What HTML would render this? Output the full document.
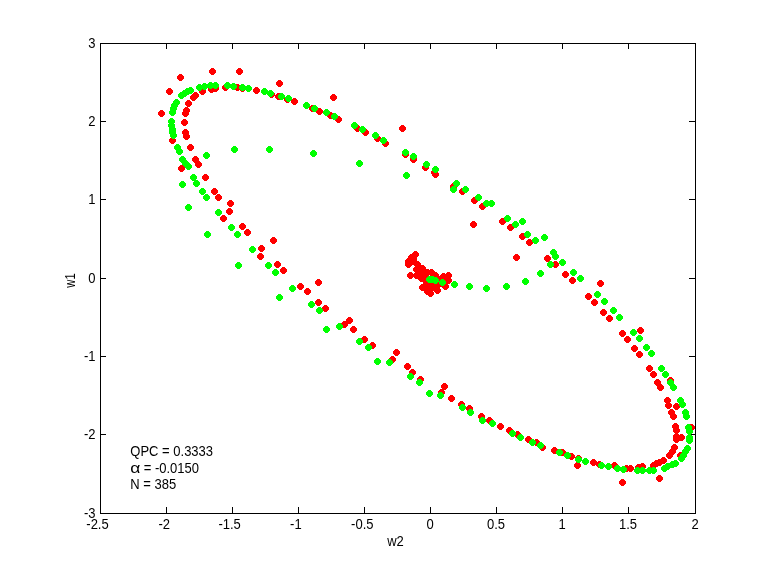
<!DOCTYPE html>
<html><head><meta charset="utf-8"><title>w1 vs w2</title>
<style>
html,body{margin:0;padding:0;background:#fff;}
svg{display:block;}
text{font-family:"Liberation Sans",sans-serif;font-size:14px;fill:#000;}
</style></head><body>
<svg width="768" height="576" viewBox="0 0 768 576">
<rect width="768" height="576" fill="#fff"/>
<g stroke="#000" stroke-width="1" fill="none" shape-rendering="crispEdges">
<rect x="100.5" y="43.5" width="595.0" height="470.0"/>
<path d="M166.5 513.5v-6.5M166.5 43.5v5.5"/><path d="M232.5 513.5v-6.5M232.5 43.5v5.5"/><path d="M298.5 513.5v-6.5M298.5 43.5v5.5"/><path d="M364.5 513.5v-6.5M364.5 43.5v5.5"/><path d="M430.5 513.5v-6.5M430.5 43.5v5.5"/><path d="M496.5 513.5v-6.5M496.5 43.5v5.5"/><path d="M562.5 513.5v-6.5M562.5 43.5v5.5"/><path d="M628.5 513.5v-6.5M628.5 43.5v5.5"/><path d="M100.5 121.5h5.5M695.5 121.5h-6.5"/><path d="M100.5 199.5h5.5M695.5 199.5h-6.5"/><path d="M100.5 278.5h5.5M695.5 278.5h-6.5"/><path d="M100.5 356.5h5.5M695.5 356.5h-6.5"/><path d="M100.5 434.5h5.5M695.5 434.5h-6.5"/>
</g>
<g fill="#ff0000" shape-rendering="crispEdges">
<circle cx="212.5" cy="71.5" r="3.4"/><circle cx="239.5" cy="71.5" r="3.4"/><circle cx="180.5" cy="77.5" r="3.4"/><circle cx="169.5" cy="91.5" r="3.4"/><circle cx="161.5" cy="113.5" r="3.4"/><circle cx="172.5" cy="140.5" r="3.4"/><circle cx="190.5" cy="147.5" r="3.4"/><circle cx="185.5" cy="132.5" r="3.4"/><circle cx="186.5" cy="136.5" r="3.4"/><circle cx="184.5" cy="122.5" r="3.4"/><circle cx="186.5" cy="110.5" r="3.4"/><circle cx="185.5" cy="113.5" r="3.4"/><circle cx="188.5" cy="103.5" r="3.4"/><circle cx="195.5" cy="95.5" r="3.4"/><circle cx="193.5" cy="97.5" r="3.4"/><circle cx="202.5" cy="91.5" r="3.4"/><circle cx="211.5" cy="89.5" r="3.4"/><circle cx="215.5" cy="88.5" r="3.4"/><circle cx="225.5" cy="87.5" r="3.4"/><circle cx="237.5" cy="87.5" r="3.4"/><circle cx="242.5" cy="88.5" r="3.4"/><circle cx="256.5" cy="90.5" r="3.4"/><circle cx="271.5" cy="94.5" r="3.4"/><circle cx="279.5" cy="83.5" r="3.4"/><circle cx="278.5" cy="96.5" r="3.4"/><circle cx="195.5" cy="159.5" r="3.4"/><circle cx="198.5" cy="164.5" r="3.4"/><circle cx="181.5" cy="168.5" r="3.4"/><circle cx="205.5" cy="177.5" r="3.4"/><circle cx="214.5" cy="191.5" r="3.4"/><circle cx="218.5" cy="197.5" r="3.4"/><circle cx="230.5" cy="203.5" r="3.4"/><circle cx="229.5" cy="211.5" r="3.4"/><circle cx="223.5" cy="218.5" r="3.4"/><circle cx="242.5" cy="226.5" r="3.4"/><circle cx="247.5" cy="232.5" r="3.4"/><circle cx="273.5" cy="240.5" r="3.4"/><circle cx="261.5" cy="248.5" r="3.4"/><circle cx="260.5" cy="256.5" r="3.4"/><circle cx="277.5" cy="264.5" r="3.4"/><circle cx="287.5" cy="99.5" r="3.4"/><circle cx="294.5" cy="101.5" r="3.4"/><circle cx="333.5" cy="97.5" r="3.4"/><circle cx="312.5" cy="108.5" r="3.4"/><circle cx="319.5" cy="111.5" r="3.4"/><circle cx="330.5" cy="115.5" r="3.4"/><circle cx="338.5" cy="119.5" r="3.4"/><circle cx="357.5" cy="128.5" r="3.4"/><circle cx="365.5" cy="132.5" r="3.4"/><circle cx="377.5" cy="138.5" r="3.4"/><circle cx="385.5" cy="143.5" r="3.4"/><circle cx="283.5" cy="270.5" r="3.4"/><circle cx="318.5" cy="282.5" r="3.4"/><circle cx="300.5" cy="286.5" r="3.4"/><circle cx="307.5" cy="291.5" r="3.4"/><circle cx="318.5" cy="302.5" r="3.4"/><circle cx="325.5" cy="308.5" r="3.4"/><circle cx="349.5" cy="320.5" r="3.4"/><circle cx="344.5" cy="324.5" r="3.4"/><circle cx="353.5" cy="329.5" r="3.4"/><circle cx="364.5" cy="339.5" r="3.4"/><circle cx="372.5" cy="345.5" r="3.4"/><circle cx="396.5" cy="352.5" r="3.4"/><circle cx="392.5" cy="359.5" r="3.4"/><circle cx="402.5" cy="128.5" r="3.4"/><circle cx="405.5" cy="154.5" r="3.4"/><circle cx="413.5" cy="159.5" r="3.4"/><circle cx="425.5" cy="167.5" r="3.4"/><circle cx="434.5" cy="172.5" r="3.4"/><circle cx="435.5" cy="174.5" r="3.4"/><circle cx="453.5" cy="186.5" r="3.4"/><circle cx="462.5" cy="191.5" r="3.4"/><circle cx="474.5" cy="200.5" r="3.4"/><circle cx="482.5" cy="206.5" r="3.4"/><circle cx="473.5" cy="224.5" r="3.4"/><circle cx="502.5" cy="221.5" r="3.4"/><circle cx="510.5" cy="227.5" r="3.4"/><circle cx="522.5" cy="236.5" r="3.4"/><circle cx="529.5" cy="242.5" r="3.4"/><circle cx="516.5" cy="257.5" r="3.4"/><circle cx="547.5" cy="258.5" r="3.4"/><circle cx="555.5" cy="264.5" r="3.4"/><circle cx="565.5" cy="274.5" r="3.4"/><circle cx="572.5" cy="280.5" r="3.4"/><circle cx="588.5" cy="296.5" r="3.4"/><circle cx="594.5" cy="302.5" r="3.4"/><circle cx="600.5" cy="283.5" r="3.4"/><circle cx="603.5" cy="312.5" r="3.4"/><circle cx="609.5" cy="318.5" r="3.4"/><circle cx="622.5" cy="333.5" r="3.4"/><circle cx="627.5" cy="339.5" r="3.4"/><circle cx="640.5" cy="330.5" r="3.4"/><circle cx="634.5" cy="348.5" r="3.4"/><circle cx="639.5" cy="354.5" r="3.4"/><circle cx="649.5" cy="368.5" r="3.4"/><circle cx="653.5" cy="374.5" r="3.4"/><circle cx="657.5" cy="382.5" r="3.4"/><circle cx="660.5" cy="387.5" r="3.4"/><circle cx="670.5" cy="380.5" r="3.4"/><circle cx="667.5" cy="400.5" r="3.4"/><circle cx="668.5" cy="405.5" r="3.4"/><circle cx="676.5" cy="406.5" r="3.4"/><circle cx="671.5" cy="412.5" r="3.4"/><circle cx="673.5" cy="416.5" r="3.4"/><circle cx="675.5" cy="426.5" r="3.4"/><circle cx="676.5" cy="430.5" r="3.4"/><circle cx="691.5" cy="427.5" r="3.4"/><circle cx="676.5" cy="436.5" r="3.4"/><circle cx="681.5" cy="437.5" r="3.4"/><circle cx="676.5" cy="439.5" r="3.4"/><circle cx="656.5" cy="463.5" r="3.4"/><circle cx="674.5" cy="447.5" r="3.4"/><circle cx="672.5" cy="451.5" r="3.4"/><circle cx="669.5" cy="455.5" r="3.4"/><circle cx="680.5" cy="455.5" r="3.4"/><circle cx="663.5" cy="460.5" r="3.4"/><circle cx="659.5" cy="462.5" r="3.4"/><circle cx="653.5" cy="465.5" r="3.4"/><circle cx="642.5" cy="466.5" r="3.4"/><circle cx="638.5" cy="467.5" r="3.4"/><circle cx="630.5" cy="468.5" r="3.4"/><circle cx="626.5" cy="468.5" r="3.4"/><circle cx="614.5" cy="465.5" r="3.4"/><circle cx="659.5" cy="478.5" r="3.4"/><circle cx="622.5" cy="482.5" r="3.4"/><circle cx="481.5" cy="416.5" r="3.4"/><circle cx="489.5" cy="420.5" r="3.4"/><circle cx="500.5" cy="426.5" r="3.4"/><circle cx="509.5" cy="430.5" r="3.4"/><circle cx="517.5" cy="434.5" r="3.4"/><circle cx="528.5" cy="439.5" r="3.4"/><circle cx="536.5" cy="442.5" r="3.4"/><circle cx="542.5" cy="447.5" r="3.4"/><circle cx="554.5" cy="450.5" r="3.4"/><circle cx="562.5" cy="452.5" r="3.4"/><circle cx="571.5" cy="456.5" r="3.4"/><circle cx="578.5" cy="458.5" r="3.4"/><circle cx="577.5" cy="465.5" r="3.4"/><circle cx="593.5" cy="462.5" r="3.4"/><circle cx="599.5" cy="464.5" r="3.4"/><circle cx="407.5" cy="366.5" r="3.4"/><circle cx="412.5" cy="372.5" r="3.4"/><circle cx="420.5" cy="379.5" r="3.4"/><circle cx="444.5" cy="386.5" r="3.4"/><circle cx="441.5" cy="392.5" r="3.4"/><circle cx="451.5" cy="398.5" r="3.4"/><circle cx="461.5" cy="404.5" r="3.4"/><circle cx="469.5" cy="408.5" r="3.4"/><circle cx="415.5" cy="254.5" r="3.4"/><circle cx="411.5" cy="257.5" r="3.4"/><circle cx="408.5" cy="261.5" r="3.4"/><circle cx="408.5" cy="264.5" r="3.4"/><circle cx="413.5" cy="261.5" r="3.4"/><circle cx="417.5" cy="264.5" r="3.4"/><circle cx="413.5" cy="259.5" r="3.4"/><circle cx="416.5" cy="269.5" r="3.4"/><circle cx="422.5" cy="268.5" r="3.4"/><circle cx="410.5" cy="275.5" r="3.4"/><circle cx="416.5" cy="275.5" r="3.4"/><circle cx="421.5" cy="273.5" r="3.4"/><circle cx="427.5" cy="272.5" r="3.4"/><circle cx="431.5" cy="272.5" r="3.4"/><circle cx="435.5" cy="275.5" r="3.4"/><circle cx="421.5" cy="278.5" r="3.4"/><circle cx="426.5" cy="277.5" r="3.4"/><circle cx="443.5" cy="276.5" r="3.4"/><circle cx="448.5" cy="275.5" r="3.4"/><circle cx="448.5" cy="280.5" r="3.4"/><circle cx="445.5" cy="286.5" r="3.4"/><circle cx="422.5" cy="287.5" r="3.4"/><circle cx="427.5" cy="286.5" r="3.4"/><circle cx="432.5" cy="285.5" r="3.4"/><circle cx="437.5" cy="290.5" r="3.4"/><circle cx="427.5" cy="291.5" r="3.4"/><circle cx="430.5" cy="293.5" r="3.4"/><circle cx="437.5" cy="285.5" r="3.4"/><circle cx="442.5" cy="283.5" r="3.4"/><circle cx="431.5" cy="279.5" r="3.4"/><circle cx="436.5" cy="280.5" r="3.4"/><circle cx="440.5" cy="279.5" r="3.4"/><circle cx="444.5" cy="281.5" r="3.4"/><circle cx="426.5" cy="282.5" r="3.4"/><circle cx="431.5" cy="288.5" r="3.4"/>
</g>
<g fill="#00ff00" shape-rendering="crispEdges">
<circle cx="199.5" cy="87.5" r="3.4"/><circle cx="204.5" cy="86.5" r="3.4"/><circle cx="210.5" cy="85.5" r="3.4"/><circle cx="215.5" cy="85.5" r="3.4"/><circle cx="227.5" cy="85.5" r="3.4"/><circle cx="233.5" cy="86.5" r="3.4"/><circle cx="242.5" cy="87.5" r="3.4"/><circle cx="248.5" cy="88.5" r="3.4"/><circle cx="264.5" cy="91.5" r="3.4"/><circle cx="270.5" cy="93.5" r="3.4"/><circle cx="181.5" cy="95.5" r="3.4"/><circle cx="184.5" cy="93.5" r="3.4"/><circle cx="187.5" cy="91.5" r="3.4"/><circle cx="190.5" cy="90.5" r="3.4"/><circle cx="176.5" cy="102.5" r="3.4"/><circle cx="174.5" cy="105.5" r="3.4"/><circle cx="173.5" cy="108.5" r="3.4"/><circle cx="172.5" cy="112.5" r="3.4"/><circle cx="171.5" cy="121.5" r="3.4"/><circle cx="171.5" cy="125.5" r="3.4"/><circle cx="172.5" cy="129.5" r="3.4"/><circle cx="172.5" cy="132.5" r="3.4"/><circle cx="173.5" cy="135.5" r="3.4"/><circle cx="177.5" cy="147.5" r="3.4"/><circle cx="234.5" cy="149.5" r="3.4"/><circle cx="269.5" cy="149.5" r="3.4"/><circle cx="179.5" cy="151.5" r="3.4"/><circle cx="182.5" cy="159.5" r="3.4"/><circle cx="185.5" cy="163.5" r="3.4"/><circle cx="188.5" cy="166.5" r="3.4"/><circle cx="206.5" cy="155.5" r="3.4"/><circle cx="193.5" cy="177.5" r="3.4"/><circle cx="196.5" cy="183.5" r="3.4"/><circle cx="182.5" cy="184.5" r="3.4"/><circle cx="202.5" cy="191.5" r="3.4"/><circle cx="206.5" cy="197.5" r="3.4"/><circle cx="188.5" cy="207.5" r="3.4"/><circle cx="218.5" cy="212.5" r="3.4"/><circle cx="231.5" cy="227.5" r="3.4"/><circle cx="237.5" cy="234.5" r="3.4"/><circle cx="207.5" cy="234.5" r="3.4"/><circle cx="252.5" cy="249.5" r="3.4"/><circle cx="238.5" cy="265.5" r="3.4"/><circle cx="268.5" cy="265.5" r="3.4"/><circle cx="275.5" cy="272.5" r="3.4"/><circle cx="279.5" cy="297.5" r="3.4"/><circle cx="281.5" cy="96.5" r="3.4"/><circle cx="288.5" cy="98.5" r="3.4"/><circle cx="306.5" cy="105.5" r="3.4"/><circle cx="314.5" cy="108.5" r="3.4"/><circle cx="326.5" cy="112.5" r="3.4"/><circle cx="334.5" cy="116.5" r="3.4"/><circle cx="354.5" cy="125.5" r="3.4"/><circle cx="362.5" cy="129.5" r="3.4"/><circle cx="375.5" cy="135.5" r="3.4"/><circle cx="383.5" cy="140.5" r="3.4"/><circle cx="313.5" cy="153.5" r="3.4"/><circle cx="359.5" cy="163.5" r="3.4"/><circle cx="292.5" cy="288.5" r="3.4"/><circle cx="311.5" cy="304.5" r="3.4"/><circle cx="319.5" cy="310.5" r="3.4"/><circle cx="339.5" cy="326.5" r="3.4"/><circle cx="326.5" cy="329.5" r="3.4"/><circle cx="359.5" cy="341.5" r="3.4"/><circle cx="368.5" cy="347.5" r="3.4"/><circle cx="377.5" cy="361.5" r="3.4"/><circle cx="389.5" cy="362.5" r="3.4"/><circle cx="405.5" cy="152.5" r="3.4"/><circle cx="413.5" cy="156.5" r="3.4"/><circle cx="426.5" cy="164.5" r="3.4"/><circle cx="435.5" cy="169.5" r="3.4"/><circle cx="406.5" cy="175.5" r="3.4"/><circle cx="456.5" cy="183.5" r="3.4"/><circle cx="453.5" cy="189.5" r="3.4"/><circle cx="465.5" cy="189.5" r="3.4"/><circle cx="478.5" cy="197.5" r="3.4"/><circle cx="486.5" cy="203.5" r="3.4"/><circle cx="491.5" cy="203.5" r="3.4"/><circle cx="507.5" cy="218.5" r="3.4"/><circle cx="515.5" cy="224.5" r="3.4"/><circle cx="522.5" cy="221.5" r="3.4"/><circle cx="527.5" cy="234.5" r="3.4"/><circle cx="535.5" cy="240.5" r="3.4"/><circle cx="544.5" cy="237.5" r="3.4"/><circle cx="553.5" cy="252.5" r="3.4"/><circle cx="555.5" cy="256.5" r="3.4"/><circle cx="550.5" cy="264.5" r="3.4"/><circle cx="562.5" cy="262.5" r="3.4"/><circle cx="540.5" cy="273.5" r="3.4"/><circle cx="525.5" cy="281.5" r="3.4"/><circle cx="506.5" cy="286.5" r="3.4"/><circle cx="486.5" cy="288.5" r="3.4"/><circle cx="469.5" cy="286.5" r="3.4"/><circle cx="573.5" cy="272.5" r="3.4"/><circle cx="580.5" cy="278.5" r="3.4"/><circle cx="597.5" cy="294.5" r="3.4"/><circle cx="604.5" cy="301.5" r="3.4"/><circle cx="613.5" cy="310.5" r="3.4"/><circle cx="619.5" cy="317.5" r="3.4"/><circle cx="633.5" cy="332.5" r="3.4"/><circle cx="639.5" cy="338.5" r="3.4"/><circle cx="646.5" cy="347.5" r="3.4"/><circle cx="651.5" cy="353.5" r="3.4"/><circle cx="661.5" cy="368.5" r="3.4"/><circle cx="665.5" cy="374.5" r="3.4"/><circle cx="670.5" cy="382.5" r="3.4"/><circle cx="673.5" cy="387.5" r="3.4"/><circle cx="680.5" cy="400.5" r="3.4"/><circle cx="682.5" cy="404.5" r="3.4"/><circle cx="685.5" cy="412.5" r="3.4"/><circle cx="686.5" cy="416.5" r="3.4"/><circle cx="688.5" cy="427.5" r="3.4"/><circle cx="689.5" cy="431.5" r="3.4"/><circle cx="689.5" cy="437.5" r="3.4"/><circle cx="689.5" cy="440.5" r="3.4"/><circle cx="687.5" cy="448.5" r="3.4"/><circle cx="685.5" cy="451.5" r="3.4"/><circle cx="683.5" cy="455.5" r="3.4"/><circle cx="681.5" cy="458.5" r="3.4"/><circle cx="675.5" cy="463.5" r="3.4"/><circle cx="672.5" cy="464.5" r="3.4"/><circle cx="667.5" cy="466.5" r="3.4"/><circle cx="664.5" cy="468.5" r="3.4"/><circle cx="653.5" cy="470.5" r="3.4"/><circle cx="649.5" cy="470.5" r="3.4"/><circle cx="642.5" cy="470.5" r="3.4"/><circle cx="637.5" cy="470.5" r="3.4"/><circle cx="623.5" cy="469.5" r="3.4"/><circle cx="617.5" cy="468.5" r="3.4"/><circle cx="608.5" cy="466.5" r="3.4"/><circle cx="601.5" cy="465.5" r="3.4"/><circle cx="482.5" cy="420.5" r="3.4"/><circle cx="492.5" cy="423.5" r="3.4"/><circle cx="512.5" cy="433.5" r="3.4"/><circle cx="520.5" cy="437.5" r="3.4"/><circle cx="532.5" cy="442.5" r="3.4"/><circle cx="540.5" cy="445.5" r="3.4"/><circle cx="559.5" cy="452.5" r="3.4"/><circle cx="567.5" cy="455.5" r="3.4"/><circle cx="578.5" cy="459.5" r="3.4"/><circle cx="585.5" cy="461.5" r="3.4"/><circle cx="410.5" cy="376.5" r="3.4"/><circle cx="419.5" cy="382.5" r="3.4"/><circle cx="429.5" cy="393.5" r="3.4"/><circle cx="440.5" cy="395.5" r="3.4"/><circle cx="462.5" cy="407.5" r="3.4"/><circle cx="470.5" cy="412.5" r="3.4"/><circle cx="429.5" cy="279.5" r="3.4"/><circle cx="432.5" cy="279.5" r="3.4"/><circle cx="435.5" cy="280.5" r="3.4"/><circle cx="442.5" cy="282.5" r="3.4"/><circle cx="454.5" cy="284.5" r="3.4"/>
</g>
<text transform="translate(97.50,529.00) scale(0.93,1)" text-anchor="middle">-2.5</text>
<text transform="translate(164.30,529.00) scale(0.93,1)" text-anchor="middle">-2</text>
<text transform="translate(229.60,529.00) scale(0.93,1)" text-anchor="middle">-1.5</text>
<text transform="translate(295.90,529.00) scale(0.93,1)" text-anchor="middle">-1</text>
<text transform="translate(362.30,529.00) scale(0.93,1)" text-anchor="middle">-0.5</text>
<text transform="translate(430.00,529.00) scale(0.93,1)" text-anchor="middle">0</text>
<text transform="translate(496.00,529.00) scale(0.93,1)" text-anchor="middle">0.5</text>
<text transform="translate(562.00,529.00) scale(0.93,1)" text-anchor="middle">1</text>
<text transform="translate(628.00,529.00) scale(0.93,1)" text-anchor="middle">1.5</text>
<text transform="translate(695.00,529.00) scale(0.93,1)" text-anchor="middle">2</text>
<text transform="translate(95.60,48.00) scale(0.93,1)" text-anchor="end">3</text>
<text transform="translate(95.60,126.00) scale(0.93,1)" text-anchor="end">2</text>
<text transform="translate(95.60,204.00) scale(0.93,1)" text-anchor="end">1</text>
<text transform="translate(95.60,283.00) scale(0.93,1)" text-anchor="end">0</text>
<text transform="translate(95.60,361.00) scale(0.93,1)" text-anchor="end">-1</text>
<text transform="translate(95.60,439.00) scale(0.93,1)" text-anchor="end">-2</text>
<text transform="translate(95.60,518.00) scale(0.93,1)" text-anchor="end">-3</text>
<text transform="translate(395.50,546.00) scale(0.93,1)" text-anchor="middle">w2</text>
<text transform="translate(75.00,280.50) rotate(-90) scale(0.8,1)" text-anchor="middle">w1</text>
<text transform="translate(130.30,456.00) scale(0.93,1)">QPC = 0.3333</text>
<text transform="translate(130.20,472.80) scale(1.25,1)">α</text>
<text transform="translate(143.70,472.80) scale(0.93,1)">= -0.0150</text>
<text transform="translate(130.30,488.80) scale(0.93,1)">N = 385</text>
</svg>
</body></html>
